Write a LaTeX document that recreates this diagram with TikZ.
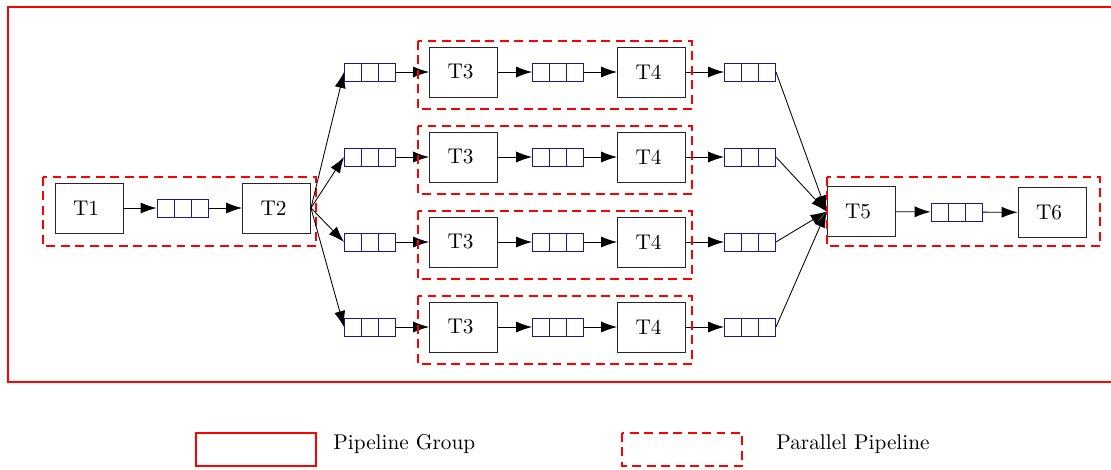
\documentclass[tikz,border=0pt]{standalone}
\usetikzlibrary{arrows.meta,calc,fit}
\definecolor{qblue}{rgb}{0.10,0.10,0.55}
\begin{document}
\begin{tikzpicture}[x=0.47pt,y=-0.47pt,
  task/.style={draw=black!85, minimum width=32pt, minimum height=23.5pt, inner sep=0pt,
    execute at end node={\hspace{2.8pt}}},
  queue/.style={draw=qblue, minimum width=24pt, minimum height=8.5pt, inner sep=0pt,
    path picture={
      \draw[qblue] ($(path picture bounding box.north west)!1/3!(path picture bounding box.north east)$)
        -- ($(path picture bounding box.south west)!1/3!(path picture bounding box.south east)$);
      \draw[qblue] ($(path picture bounding box.north west)!2/3!(path picture bounding box.north east)$)
        -- ($(path picture bounding box.south west)!2/3!(path picture bounding box.south east)$);
    }},
  flow/.style={draw=black, -{Latex[length=7.5pt,width=5.2pt]}},
  group/.style={draw=red, line width=0.55pt, dash pattern=on 4.2pt off 2.6pt},
  pgroup/.style={draw=red, line width=0.9pt}
]
\useasboundingbox (0,0) rectangle (1111,469);

% outer pipeline group
\draw[pgroup] (8,7) rectangle (1130,382);

% first stage
\node[task] (t1) at (89,208) {T1};
\node[queue] (q1) at (182.5,208) {};
\node[task] (t2) at (276.5,208) {T2};
\draw[flow] (t1) -- (q1);
\draw[flow] (q1) -- (t2);
\draw[group] (43,177) rectangle (316,246);

% four parallel pipelines
\foreach \i/\y in {1/72,2/157,3/242,4/327}{
  \node[queue] (qa\i) at (370,\y) {};
  \node[task] (t3\i) at (463.5,\y) {T3};
  \node[queue] (qb\i) at (558,\y) {};
  \node[task] (t4\i) at (651.5,\y) {T4};
  \node[queue] (qc\i) at (750,\y) {};
  \draw[flow] (t2.east) -- (qa\i.west);
  \draw[flow] (qa\i) -- (t3\i);
  \draw[flow] (t3\i) -- (qb\i);
  \draw[flow] (qb\i) -- (t4\i);
  \draw[flow] (t4\i) -- (qc\i);
  \draw[group] (418,\y-31) rectangle (692,\y+37);
}

% last stage
\node[task] (t5) at (861,211.5) {T5};
\node[queue] (q5) at (956.5,212) {};
\node[task] (t6) at (1052,212.5) {T6};
\foreach \i in {1,2,3,4}{
  \draw[flow] (qc\i.east) -- (t5.west);
}
\draw[flow] (t5) -- (q5);
\draw[flow] (q5) -- (t6);
\draw[group] (827,177) rectangle (1100,246);

% legend
\draw[pgroup] (196,433) rectangle (316,466);
\node[anchor=base west, inner sep=0pt] (lg1) at (333,449) {Pipeline Group};
\draw[group] (622,433) rectangle (742,466);
\node[anchor=base west, inner sep=0pt] (lg2) at (776,449) {Parallel Pipeline};
\end{tikzpicture}
\end{document}
